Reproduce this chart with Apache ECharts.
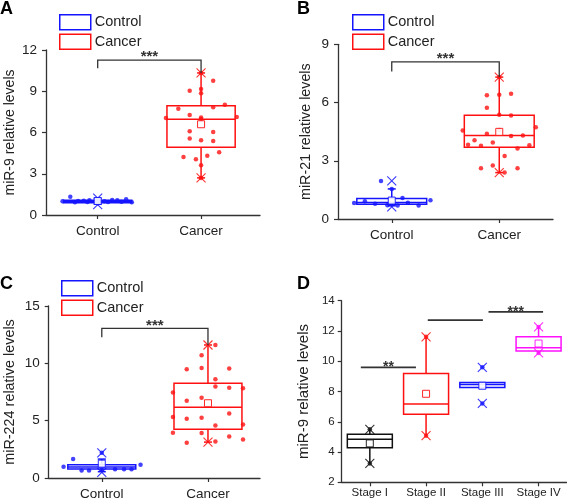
<!DOCTYPE html>
<html><head><meta charset="utf-8">
<script src="https://cdn.jsdelivr.net/npm/echarts@6/dist/echarts.min.js"></script>
<style>html,body{margin:0;padding:0;background:#fff}#c{width:567px;height:501px}</style>
</head><body><div id="c"></div>
<script>
const FONT = '"Liberation Sans", Arial, Helvetica, sans-serif';
const BLUE = '#1414ff', RED = '#ff1010', BLACK = '#111111', MAGENTA = '#ff10ff';

// ---------- Panel A: miR-9 ----------
const abcCategories = ['Control', 'Cancer'];
// box: [whiskerLow, Q1, median, Q3, whiskerHigh]
const aControlBox = [0.78, 0.9, 1.0, 1.08, 1.22];
const aCancerBox = [2.7, 4.93, 6.97, 7.95, 10.33];
const aMeans = [1.02, 6.6];
const aControlStars = [0.75, 1.22];
const aCancerStars = [2.7, 10.33];
// points: [jitter, value]
const aControlPts = [[-0.265, 1.33], [-0.34, 1.0], [-0.19, 1.02], [-0.135, 1.04], [-0.08, 1.07], [-0.22, 0.92],
  [-0.1, 0.94], [0, 0.86], [0.065, 1.0], [0.14, 1.09], [0.19, 1.07], [0.275, 1.14], [0.33, 0.92], [0.1, 0.95], [0.23, 0.97], [0, 1.12]];
const aCancerPts = [[0, 10.33], [0.117, 9.77], [-0.11, 9.04], [0, 9.16], [0, 8.85], [-0.22, 7.73], [0.117, 7.83], [0.23, 8.02],
  [-0.34, 7.05], [0.345, 7.13], [-0.11, 7.27], [0, 7.1], [0, 6.98], [-0.11, 6.09], [0.117, 6.04], [-0.11, 5.57], [0, 5.43],
  [0.117, 5.38], [-0.17, 4.22], [-0.05, 4.05], [0.06, 4.31], [0.175, 4.56], [0, 3.61], [0, 2.7]];
const aBracket = [1, 2, 11.27, 10.67, 10.33];

// ---------- Panel B: miR-21 ----------
const bControlBox = [0.68, 0.76, 0.85, 1.05, 1.55];
const bCancerBox = [2.39, 3.7, 4.3, 5.35, 7.31];
const bMeans = [0.95, 4.49];
const bControlStars = [0.62, 1.96];
const bCancerStars = [2.39, 7.31];
const bControlPts = [[-0.1, 1.96], [-0.35, 0.83], [-0.25, 0.91], [-0.155, 0.79], [-0.04, 0.71], [0.055, 0.69], [0.1, 1.08],
  [0.15, 0.84], [0.25, 0.69], [0.36, 0.97], [0, 1.55]];
const bCancerPts = [[0, 7.31], [-0.115, 6.37], [0, 6.40], [0.11, 6.45], [-0.115, 5.73], [0, 5.37], [0.11, 5.33],
  [-0.34, 4.56], [0.34, 4.73], [0, 4.58], [-0.115, 4.39], [0.11, 4.27], [0.22, 4.3], [-0.23, 4.06], [-0.06, 3.94],
  [-0.29, 3.82], [-0.17, 3.78], [0.28, 3.8], [0.17, 3.63], [0.05, 3.25], [-0.17, 2.62], [-0.06, 2.75], [0.05, 2.39], [0.17, 2.62]];
const bBracket = [1, 2, 8.09, 7.6, 7.31];

// ---------- Panel C: miR-224 ----------
const cControlBox = [0.55, 0.78, 0.95, 1.15, 1.65];
const cCancerBox = [3.13, 4.26, 6.18, 8.26, 11.6];
const cMeans = [1.25, 6.52];
const cControlStars = [0.5, 2.2];
const cCancerStars = [3.13, 11.6];
const cControlPts = [[-0.36, 0.98], [-0.27, 1.65], [-0.19, 0.66], [-0.12, 0.66], [0, 2.2], [0, 0.7], [0.125, 0.77],
  [0.21, 0.77], [0.28, 0.77], [0.365, 1.16]];
const cCancerPts = [[0.07, 11.6], [-0.06, 10.7], [-0.2, 9.49], [-0.06, 9.6], [0.2, 9.54], [0.07, 8.61], [0.07, 7.97],
  [0.2, 7.86], [0.33, 7.83], [-0.33, 7.45], [-0.06, 6.99], [-0.2, 6.73], [-0.33, 5.33], [-0.06, 5.25], [-0.2, 5.16],
  [0.2, 5.62], [0.33, 4.67], [0.07, 4.58], [-0.33, 3.94], [-0.06, 3.92], [-0.2, 3.07], [0.07, 3.19], [0.2, 3.62], [0.33, 3.36]];
const cBracket = [1, 2, 13.05, 12.27, 11.6];

// ---------- Panel D: miR-9 by stage ----------
const dCategories = ['Stage I', 'Stage II', 'Stage III', 'Stage IV'];
const dBoxes = [[3.25, 4.29, 4.84, 5.17, 5.45], [5.08, 6.49, 7.17, 9.19, 11.61], [8.27, 8.27, 8.47, 8.6, 8.6], [10.55, 10.67, 10.89, 11.61, 12.27]];
const dMeans = [4.57, 7.85, 8.38, 11.17];
const dStars = [[3.25, 5.5], [5.08, 11.61], [7.21, 9.6], [10.55, 12.27]];
const dSigLines = [[0.84, 1.82, 9.59], [2.03, 3.01, 12.71], [3.11, 4.08, 13.26]];
const dSigLabels = ['**', '', '***'];

const STAR = 'path://M0,0L10,10M10,0L0,10';

function boxRender(hw, color, caps) {
  return function (params, api) {
    const x = api.value(0);
    const lo = api.value(1), q1 = api.value(2), md = api.value(3), q3 = api.value(4), hi = api.value(5);
    const tl = api.coord([x - hw, q3]), br = api.coord([x + hw, q1]);
    const cx = api.coord([x, md])[0];
    const yMd = api.coord([x, md])[1], yLo = api.coord([x, lo])[1], yHi = api.coord([x, hi])[1];
    const st = { stroke: color, lineWidth: 1.5, fill: null };
    const ch = [
      { type: 'rect', shape: { x: tl[0], y: tl[1], width: br[0] - tl[0], height: br[1] - tl[1] }, style: st },
      { type: 'line', shape: { x1: tl[0], y1: yMd, x2: br[0], y2: yMd }, style: st },
      { type: 'line', shape: { x1: cx, y1: tl[1], x2: cx, y2: yHi }, style: st },
      { type: 'line', shape: { x1: cx, y1: br[1], x2: cx, y2: yLo }, style: st }
    ];
    if (caps) {
      ch.push({ type: 'line', shape: { x1: cx - 4, y1: yHi, x2: cx + 4, y2: yHi }, style: st });
      ch.push({ type: 'line', shape: { x1: cx - 4, y1: yLo, x2: cx + 4, y2: yLo }, style: st });
    }
    return { type: 'group', children: ch };
  };
}

function bracketRender(labels, color, fs, dy, legs) {
  return function (params, api) {
    const x1 = api.value(0), x2 = api.value(1), yt = api.value(2);
    const yl = legs ? api.value(3) : yt, yr = legs ? api.value(4) : yt;
    const p1 = api.coord([x1, yl]), p2 = api.coord([x1, yt]), p3 = api.coord([x2, yt]), p4 = api.coord([x2, yr]);
    return { type: 'group', children: [
      { type: 'polyline', shape: { points: [p1, p2, p3, p4] }, style: { stroke: color, lineWidth: legs ? 1.3 : 1.8, fill: null } },
      { type: 'text', x: (p2[0] + p3[0]) / 2, y: p2[1] + dy, style: { text: labels[params.dataIndex], fill: color, fontSize: fs, fontWeight: 'bold', fontFamily: FONT, align: 'center', verticalAlign: 'middle' } }
    ] };
  };
}

const grids = [
  { left: 46, top: 50, width: 214, height: 165 },
  { left: 338, top: 44.3, width: 215, height: 174.7 },
  { left: 48.7, top: 306, width: 211.3, height: 172.3 },
  { left: 341.7, top: 300.7, width: 225, height: 181.6 }
];

function xAx(i, max, cats, fs, margin) {
  const vals = cats.map((c, k) => k + 1);
  return {
    type: 'value', gridIndex: i, min: 0.5, max: max,
    axisLine: { show: true, onZero: false, lineStyle: { color: '#333', width: 1.3 } },
    axisTick: { show: true, customValues: vals, length: 4, lineStyle: { color: '#333', width: 1.2 } },
    axisLabel: { customValues: vals, formatter: v => cats[Math.round(v) - 1] || '', fontSize: fs, fontFamily: FONT, color: '#222', margin: margin },
    splitLine: { show: false }
  };
}
function yAx(i, min, max, interval, name, fs, nfs, gap, margin) {
  return {
    type: 'value', gridIndex: i, min: min, max: max, interval: interval,
    name: name, nameLocation: 'middle', nameGap: gap,
    nameTextStyle: { fontSize: nfs, fontFamily: FONT, color: '#222' },
    axisLine: { show: true, lineStyle: { color: '#333', width: 1.3 } },
    axisTick: { show: true, length: 4, lineStyle: { color: '#333', width: 1.2 } },
    axisLabel: { fontSize: fs, fontFamily: FONT, color: '#222', margin: margin },
    splitLine: { show: false }
  };
}

const series = [];
function addBox(name, gi, pos, box, color, hw, caps) {
  series.push({ type: 'custom', name: name, xAxisIndex: gi, yAxisIndex: gi, renderItem: boxRender(hw, color, caps),
    encode: { x: 0, y: [1, 2, 3, 4, 5] }, data: [[pos].concat(box)], z: 2, itemStyle: { color: '#fff', borderColor: color } });
}
function addPts(name, gi, pos, pts, color) {
  series.push({ type: 'scatter', name: name, xAxisIndex: gi, yAxisIndex: gi, symbol: 'circle', symbolSize: 4.5,
    data: pts.map(p => [pos + p[0], p[1]]), itemStyle: { color: color }, z: 4 });
}
function addStars(name, gi, pos, stars, color) {
  series.push({ type: 'scatter', name: name, xAxisIndex: gi, yAxisIndex: gi, symbol: STAR, symbolSize: 9,
    data: stars.map(v => [pos, v]), itemStyle: { color: 'transparent', borderColor: color, borderWidth: 1.1, opacity: 0.85 }, z: 3 });
}
function addMean(name, gi, pos, m, color) {
  series.push({ type: 'scatter', name: name, xAxisIndex: gi, yAxisIndex: gi, symbol: 'rect', symbolSize: 7,
    data: [[pos, m]], itemStyle: { color: '#fff', borderColor: color, borderWidth: 1, opacity: 0.9 }, z: 5 });
}
function addBracket(gi, data, labels, fs, dy, legs) {
  series.push({ type: 'custom', xAxisIndex: gi, yAxisIndex: gi, renderItem: bracketRender(labels, '#333', fs, dy, legs),
    encode: { x: [0, 1], y: [2] }, data: data, z: 6 });
}

const panelsABC = [
  [0, aControlBox, aCancerBox, aMeans, aControlStars, aCancerStars, aControlPts, aCancerPts, aBracket, 0.33],
  [1, bControlBox, bCancerBox, bMeans, bControlStars, bCancerStars, bControlPts, bCancerPts, bBracket, 0.325],
  [2, cControlBox, cCancerBox, cMeans, cControlStars, cCancerStars, cControlPts, cCancerPts, cBracket, 0.32]
];
panelsABC.forEach(p => {
  const [gi, cb, kb, means, cs, ks, cp, kp, br, hw] = p;
  addBox('Control', gi, 1, cb, BLUE, hw, true);
  addBox('Cancer', gi, 2, kb, RED, hw, true);
  addStars('Control', gi, 1, cs, BLUE);
  addStars('Cancer', gi, 2, ks, RED);
  addPts('Control', gi, 1, cp, BLUE);
  addPts('Cancer', gi, 2, kp, RED);
  addMean('Control', gi, 1, means[0], BLUE);
  addMean('Cancer', gi, 2, means[1], RED);
  addBracket(gi, [br], ['***'], 15, -3, true);
});
const dColors = [BLACK, RED, BLUE, MAGENTA];
dCategories.forEach((c, k) => {
  addBox(c, 3, k + 1, dBoxes[k], dColors[k], 0.4, false);
  addStars(c, 3, k + 1, dStars[k], dColors[k]);
  addPts(c, 3, k + 1, dStars[k].map(v => [0, v]), dColors[k]);
  addMean(c, 3, k + 1, dMeans[k], dColors[k]);
});
addBracket(3, dSigLines.map(s => [s[0], s[1], s[2], s[2], s[2]]), dSigLabels, 14, 0, false);

function legendAt(left, top) {
  return {
    left: left, top: top, orient: 'vertical', itemWidth: 31, itemHeight: 15, itemGap: 3, padding: 0,
    selectedMode: false,
    textStyle: { fontSize: 14.5, fontFamily: FONT, color: '#222', padding: [0, 0, 0, -1] },
    data: [
      { name: 'Control', icon: 'rect', itemStyle: { color: '#fff', borderColor: BLUE, borderWidth: 1.5 } },
      { name: 'Cancer', icon: 'rect', itemStyle: { color: '#fff', borderColor: RED, borderWidth: 1.5 } }
    ]
  };
}

const chart = echarts.init(document.getElementById('c'), null, { renderer: 'canvas' });
chart.setOption({
  animation: false,
  backgroundColor: '#fff',
  grid: grids,
  xAxis: [xAx(0, 2.57, abcCategories, 13.5, 9), xAx(1, 2.5, abcCategories, 13.5, 9), xAx(2, 2.49, abcCategories, 13.5, 9), xAx(3, 4.5, dCategories, 11.5, 5)],
  yAxis: [
    yAx(0, 0, 12, 3, 'miR-9 relative levels', 13.5, 14, 29, 9),
    yAx(1, 0, 9, 3, 'miR-21 relative levels', 13.5, 14.3, 25, 9),
    yAx(2, 0, 15, 5, 'miR-224 relative levels', 13.5, 14.4, 32, 9),
    yAx(3, 2, 14, 2, 'miR-9 relative levels', 11.5, 15, 30, 7)
  ],
  legend: [legendAt(59, 14), legendAt(352, 14), legendAt(61, 280)],
  graphic: [
    { type: 'text', left: 0, top: 0, style: { text: 'A', fontSize: 18, fontWeight: 'bold', fontFamily: FONT, fill: '#000' } },
    { type: 'text', left: 297, top: 0, style: { text: 'B', fontSize: 18, fontWeight: 'bold', fontFamily: FONT, fill: '#000' } },
    { type: 'text', left: 0, top: 275, style: { text: 'C', fontSize: 18, fontWeight: 'bold', fontFamily: FONT, fill: '#000' } },
    { type: 'text', left: 297, top: 275, style: { text: 'D', fontSize: 18, fontWeight: 'bold', fontFamily: FONT, fill: '#000' } }
  ],
  series: series
});
</script></body></html>
